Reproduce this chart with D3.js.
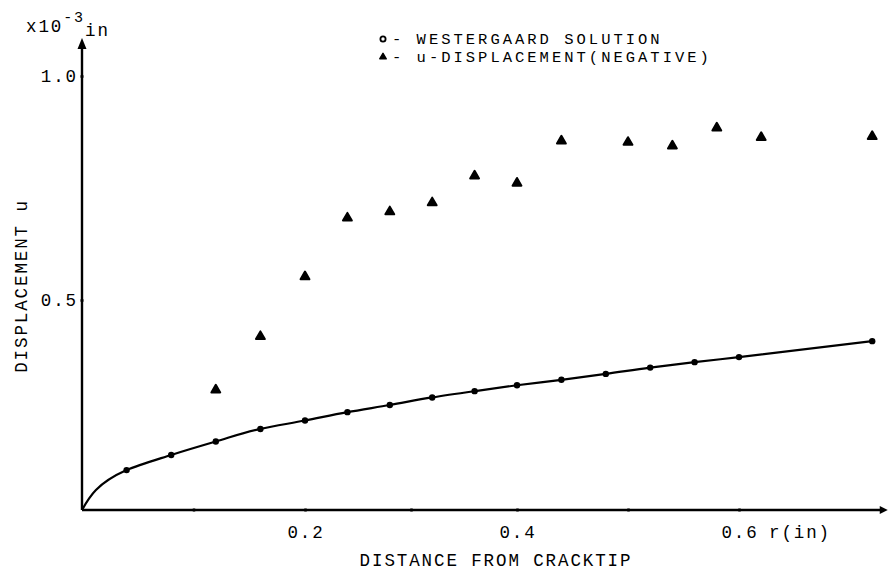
<!DOCTYPE html>
<html>
<head>
<meta charset="utf-8">
<script src="https://cdn.jsdelivr.net/npm/d3@7"></script>
<style>
  body { margin: 0; background: #fff; }
  svg text { font-family: "Liberation Mono", "Courier New", monospace; font-size: 17.5px; letter-spacing: 1.9px; fill: #000; }
  svg text.legend { font-size: 15.5px; letter-spacing: 3px; }
</style>
</head>
<body>
<div id="chart"></div>
<script>
// Westergaard solution (circles + curve)
const wgR = [0.04, 0.08, 0.12, 0.16, 0.20, 0.24, 0.28, 0.32, 0.36, 0.40, 0.44, 0.48, 0.52, 0.56, 0.60, 0.72];
const wgU = [0.095, 0.131, 0.163, 0.193, 0.213, 0.233, 0.250, 0.268, 0.283, 0.297, 0.310, 0.324, 0.339, 0.352, 0.364, 0.402];

// u-displacement (negative), triangles
const dispR = [0.12, 0.16, 0.20, 0.24, 0.28, 0.32, 0.36, 0.40, 0.44, 0.50, 0.54, 0.58, 0.62, 0.72];
const dispU = [0.286, 0.413, 0.552, 0.683, 0.697, 0.717, 0.777, 0.761, 0.855, 0.852, 0.844, 0.884, 0.863, 0.865];

const xTicks = [0.1, 0.2, 0.3, 0.4, 0.5, 0.6];
const xLabels = [0.2, 0.4, 0.6];
const yLabels = [0.5, 1.0];

const W = 889, H = 571;

let svg = d3.select("#chart").append("svg")
    .attr("width", W)
    .attr("height", H);

// hand drawn axes are a bit uneven, so piecewise scales
let x = d3.scaleLinear()
    .domain([0, 0.2, 0.4, 0.6])
    .range([82, 305, 517, 739]);
let y = d3.scaleLinear()
    .domain([0, 0.5, 1.0])
    .range([510, 300, 76]);

const xMax = 0.734, yMax = 1.085;

// axes lines
let axes = svg.append("g")
    .attr("stroke", "#000")
    .attr("stroke-width", 2.4)
    .attr("fill", "none");

axes.append("line")
    .attr("x1", x(0)).attr("y1", y(0))
    .attr("x2", x(xMax) - 4).attr("y2", y(0));
axes.append("line")
    .attr("x1", x(0)).attr("y1", y(0))
    .attr("x2", x(0)).attr("y2", y(yMax) + 6);

// arrow heads
svg.append("path")
    .attr("d", `M${x(0)},${y(yMax)} L${x(0) - 4.5},${y(yMax) + 11} L${x(0) + 4.5},${y(yMax) + 11} Z`)
    .attr("fill", "#000");
svg.append("path")
    .attr("d", `M${x(xMax)},${y(0)} L${x(xMax) - 8},${y(0) - 4} L${x(xMax) - 8},${y(0) + 4} Z`)
    .attr("fill", "#000");

// tick marks
let xAxis = d3.axisBottom(x)
    .tickValues(xTicks)
    .tickSizeInner(3)
    .tickSizeOuter(0)
    .tickFormat("");
svg.append("g")
    .attr("transform", `translate(0, ${y(0) - 1.5})`)
    .call(xAxis)
    .call(g => g.select(".domain").remove())
    .call(g => g.selectAll("line").attr("stroke-width", 2.5));

let yAxis = d3.axisLeft(y)
    .tickValues(yLabels)
    .tickSizeInner(3)
    .tickSizeOuter(0)
    .tickFormat("");
svg.append("g")
    .attr("transform", `translate(${x(0) + 1.5}, 0)`)
    .call(yAxis)
    .call(g => g.select(".domain").remove())
    .call(g => g.selectAll("line").attr("stroke-width", 2.5));

// tick labels
svg.append("g").selectAll("text")
    .data(xLabels)
    .join("text")
    .attr("x", d => x(d) + 1)
    .attr("y", 538)
    .attr("text-anchor", "middle")
    .text(d => d3.format(".1f")(d));

svg.append("text")
    .attr("x", x(0.6) + 30)
    .attr("y", 538)
    .text("r(in)");

svg.append("g").selectAll("text")
    .data(yLabels)
    .join("text")
    .attr("x", 78)
    .attr("y", d => y(d) + 6)
    .attr("text-anchor", "end")
    .text(d => d3.format(".1f")(d));

// unit label top left
let unit = svg.append("text")
    .attr("x", 26)
    .attr("y", 32);
unit.append("tspan").text("x10");
unit.append("tspan").attr("dy", -10).style("font-size", "15px").text("-3");
unit.append("tspan").attr("dy", 14).text("in");

// axis titles
svg.append("text")
    .attr("x", 496)
    .attr("y", 566)
    .attr("text-anchor", "middle")
    .text("DISTANCE FROM CRACKTIP");

svg.append("text")
    .attr("transform", "translate(27, 286) rotate(-90)")
    .attr("text-anchor", "middle")
    .text("DISPLACEMENT u");

// Westergaard curve through the origin (monotone in y gives the steep start)
let curveData = [{r: 0, u: 0}].concat(wgR.map((r, i) => ({r: r, u: wgU[i]})));
let line = d3.line()
    .x(d => x(d.r))
    .y(d => y(d.u))
    .curve(d3.curveMonotoneY);

svg.append("path")
    .datum(curveData)
    .attr("d", line)
    .attr("fill", "none")
    .attr("stroke", "#000")
    .attr("stroke-width", 2.2);

svg.append("g").selectAll("circle")
    .data(wgR.map((r, i) => ({r: r, u: wgU[i]})))
    .join("circle")
    .attr("cx", d => x(d.r))
    .attr("cy", d => y(d.u))
    .attr("r", 3.2)
    .attr("fill", "#000");

// triangles
let tri = d3.symbol().type(d3.symbolTriangle).size(34);
svg.append("g").selectAll("path")
    .data(dispR.map((r, i) => ({r: r, u: dispU[i]})))
    .join("path")
    .attr("d", tri)
    .attr("transform", d => `translate(${x(d.r)}, ${y(d.u)})`)
    .attr("fill", "#000")
    .attr("stroke", "#000")
    .attr("stroke-width", 2)
    .attr("stroke-linejoin", "round");

// legend
let legend = svg.append("g");
legend.append("circle")
    .attr("cx", 383)
    .attr("cy", 39)
    .attr("r", 2.6)
    .attr("fill", "none")
    .attr("stroke", "#000")
    .attr("stroke-width", 1.8);
legend.append("text")
    .attr("class", "legend")
    .attr("x", 392)
    .attr("y", 44)
    .text("- WESTERGAARD SOLUTION");
legend.append("path")
    .attr("d", d3.symbol().type(d3.symbolTriangle).size(18))
    .attr("transform", "translate(383, 57)")
    .attr("fill", "#000")
    .attr("stroke", "#000")
    .attr("stroke-width", 1.5)
    .attr("stroke-linejoin", "round");
legend.append("text")
    .attr("class", "legend")
    .attr("x", 392)
    .attr("y", 62)
    .text("- u-DISPLACEMENT(NEGATIVE)");
</script>
</body>
</html>
